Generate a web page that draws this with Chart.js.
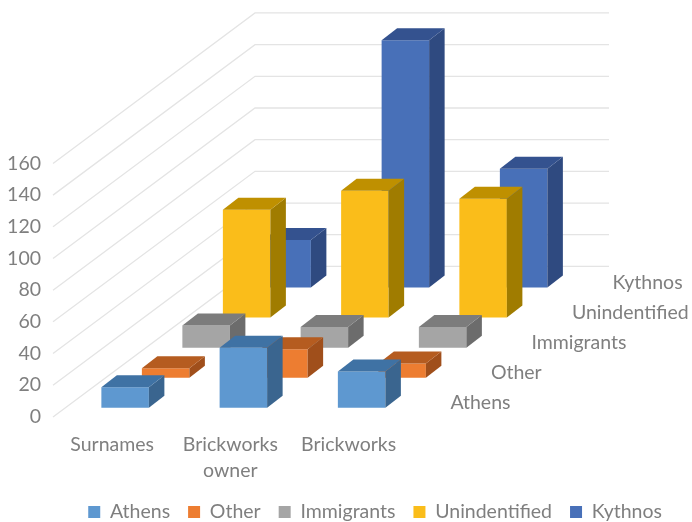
<!DOCTYPE html>
<html>
<head>
<meta charset="utf-8">
<style>html,body{margin:0;padding:0;background:#fff}canvas{display:block}</style>
<script src="https://cdn.jsdelivr.net/npm/chart.js@4"></script>
</head>
<body>
<canvas id="c" width="692" height="522"></canvas>
<script>
const categories = ['Surnames', ['Brickworks', 'owner'], 'Brickworks'];
const seriesNames = ['Athens', 'Other', 'Immigrants', 'Unindentified', 'Kythnos'];
const athens = [13, 38, 23];
const other = [6, 18, 9];
const immigrants = [14, 13, 13];
const unindentified = [68, 80, 75];
const kythnos = [30, 156, 75];
const frontColors = ['#5E98D0', '#ED7D31', '#A5A5A5', '#FABD1A', '#4870B8'];
const topColors = ['#3F72A4', '#B55C20', '#7C7C7C', '#BF9000', '#34528F'];
const sideColors = ['#3A658F', '#A04F1B', '#6C6C6C', '#A07C00', '#2F4A80'];
const seriesValues = [athens, other, immigrants, unindentified, kythnos];

const TEXT = '#7F7F7F';
const FONT = 'Lato';
const FONT_SIZE = 19.5;
const FLOOR_LIFT = 5.7;   // front floor edge height, axis units
const ROW_LIFT = 19;      // rise of each depth row, axis units
const BAR_DX = 15.5, BAR_DY = 12;
const WALL_DX = 202;
const WALL_LEFT = 53, WALL_RIGHT = 609;

const datasets = seriesNames.map((name, i) => ({
  label: name,
  data: seriesValues[i].map(v => {
    const base = FLOOR_LIFT + i * ROW_LIFT;
    return [base, base + v];
  }),
  backgroundColor: frontColors[i],
  borderWidth: 0,
  clip: false,
  categoryPercentage: 1.7125,
  barPercentage: 1.173
}));

const threeD = {
  id: 'threeD',
  beforeDatasetsDraw(chart) {
    const y = chart.scales.y, ctx = chart.ctx;
    const rise = y.getPixelForValue(0) - y.getPixelForValue(ROW_LIFT * 5);
    ctx.save();
    ctx.strokeStyle = '#E4E4E4';
    ctx.lineWidth = 1.3;
    y.ticks.forEach(t => {
      const p = y.getPixelForValue(t.value);
      ctx.beginPath();
      ctx.moveTo(WALL_LEFT, p);
      ctx.lineTo(WALL_LEFT + WALL_DX, p - rise);
      ctx.lineTo(WALL_RIGHT, p - rise);
      ctx.stroke();
    });
    ctx.restore();
  },
  afterDatasetDraw(chart, args) {
    const ctx = chart.ctx, i = args.index;
    ctx.save();
    args.meta.data.forEach(el => {
      const l = el.x - el.width / 2, r = el.x + el.width / 2, t = el.y, b = el.base;
      ctx.fillStyle = sideColors[i];
      ctx.beginPath();
      ctx.moveTo(r, t); ctx.lineTo(r + BAR_DX, t - BAR_DY);
      ctx.lineTo(r + BAR_DX, b - BAR_DY); ctx.lineTo(r, b);
      ctx.closePath(); ctx.fill();
      ctx.fillStyle = topColors[i];
      ctx.beginPath();
      ctx.moveTo(l, t); ctx.lineTo(l + BAR_DX, t - BAR_DY);
      ctx.lineTo(r + BAR_DX, t - BAR_DY); ctx.lineTo(r, t);
      ctx.closePath(); ctx.fill();
    });
    ctx.restore();
  },
  afterDatasetsDraw(chart) {
    const ctx = chart.ctx;
    ctx.save();
    ctx.fillStyle = TEXT;
    ctx.font = FONT_SIZE + 'px ' + FONT;
    ctx.textAlign = 'left';
    ctx.textBaseline = 'middle';
    seriesNames.forEach((name, i) => {
      const el = chart.getDatasetMeta(i).data[2];
      ctx.fillText(name, el.x + el.width / 2 + 65, el.base - 5);
    });
    ctx.restore();
  }
};

new Chart(document.getElementById('c'), {
  type: 'bar',
  data: { labels: categories, datasets },
  plugins: [threeD],
  options: {
    responsive: false,
    animation: false,
    layout: { padding: { left: 0, right: 12, top: 5, bottom: -9.65 } },
    plugins: {
      tooltip: { enabled: false },
      title: { display: false },
      legend: {
        position: 'bottom',
        align: 'end',
        labels: {
          boxWidth: 12, boxHeight: 12, padding: 18,
          color: TEXT, font: { family: FONT, size: FONT_SIZE }
        }
      }
    },
    scales: {
      x: {
        grid: { display: false },
        border: { display: false },
        afterFit(s) { s.height = 67.25; },
        ticks: {
          autoSkip: false, maxRotation: 0, minRotation: 0,
          labelOffset: -94, padding: 7,
          color: TEXT, font: { family: FONT, size: FONT_SIZE, lineHeight: 1.33 }
        }
      },
      y: {
        min: 0, max: 260,
        grid: { display: false, drawTicks: true, tickLength: 103 },
        border: { display: false },
        afterFit(s) { s.width = 147; s.paddingTop = 0; s.paddingBottom = 0; },
        afterBuildTicks(s) { s.ticks = s.ticks.filter(t => t.value <= 160); },
        ticks: {
          stepSize: 20, padding: 3,
          color: TEXT, font: { family: FONT, size: FONT_SIZE }
        }
      },
      spare: {
        position: 'right', min: 0, max: 1,
        grid: { display: false, drawTicks: false },
        border: { display: false },
        ticks: { display: false },
        afterFit(s) { s.width = 178.25; s.paddingTop = 0; s.paddingBottom = 0; }
      }
    }
  }
});
</script>
</body>
</html>
